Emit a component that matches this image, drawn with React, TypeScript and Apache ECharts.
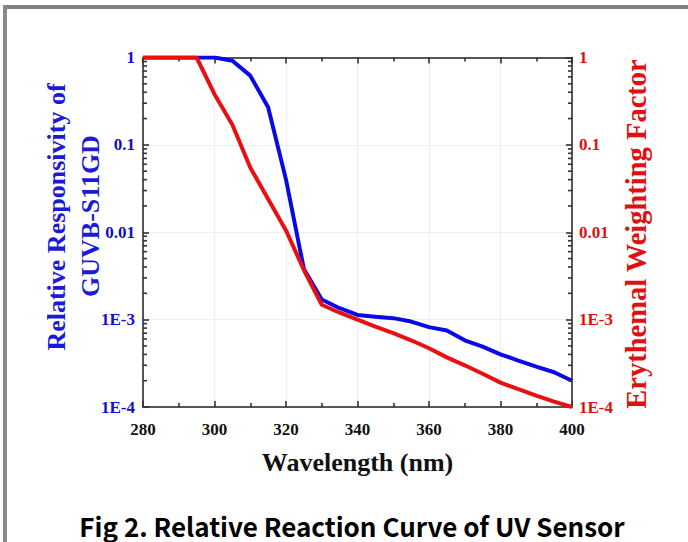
import React, { useEffect, useRef } from "react";
import * as echarts from "echarts";

const wavelengths = [280, 285, 290, 295, 300, 305, 310, 315, 320, 325, 330, 335, 340, 345, 350, 355, 360, 365, 370, 375, 380, 385, 390, 395, 400];
const responsivity = [1, 1, 1, 1, 1, 0.92, 0.62, 0.27, 0.04, 0.0038, 0.0017, 0.00135, 0.00113, 0.00108, 0.00104, 0.00095, 0.00082, 0.00075, 0.00058, 0.00049, 0.0004, 0.00034, 0.00029, 0.00025, 0.0002];
const erythemal = [1, 1, 1, 1, 0.38, 0.17, 0.055, 0.024, 0.0105, 0.0037, 0.00148, 0.0012, 0.001, 0.00083, 0.0007, 0.00058, 0.00047, 0.00037, 0.0003, 0.00024, 0.00019, 0.00016, 0.000135, 0.000115, 0.0001];
const yTickLabels: Record<string, string> = { "1": "1", "0.1": "0.1", "0.01": "0.01", "0.001": "1E-3", "0.0001": "1E-4" };
const minorMultipliers = [2, 3, 4, 5, 6, 7, 8, 9];
const decades = [0.0001, 0.001, 0.01, 0.1];
const leftTitleLines = ["Relative Responsivity of", "GUVB-S11GD"];
const rightTitle = "Erythemal Weighting Factor";
const xTitle = "Wavelength (nm)";
const figCaption = "Fig 2. Relative Reaction Curve of UV Sensor";

const fmtY = (v: number) => {
  const k = String(Number(v.toPrecision(3)));
  if (yTickLabels[k]) return yTickLabels[k];
  const e = Math.round(Math.log10(v));
  return "1E" + e;
};

export default function App() {
  const ref = useRef<HTMLDivElement>(null);
  useEffect(() => {
    if (!ref.current) return;
    const chart = echarts.init(ref.current, undefined, { renderer: "svg" });
    const minorVals: number[] = [];
    decades.forEach((d) => minorMultipliers.forEach((m) => minorVals.push(d * m)));
    const serif = "'Liberation Serif', 'Times New Roman', serif";
    const tickStyle = { color: "#333", width: 1.6 };
    const axisLine = { show: true, lineStyle: { color: "#222", width: 1.5 } };
    const axisTick = { show: true, inside: true, length: 6, lineStyle: tickStyle };
    chart.setOption({
      animation: false,
      backgroundColor: "#fff",
      grid: { left: 143, top: 57.5, right: 116, bottom: 135, containLabel: false },
      xAxis: [
        {
          type: "value",
          min: 280,
          max: 400,
          interval: 20,
          position: "bottom",
          axisLine,
          axisTick,
          minorTick: { show: true, splitNumber: 2, length: 4, lineStyle: tickStyle },
          axisLabel: { color: "#111", fontFamily: serif, fontWeight: "bold", fontSize: 17, margin: 14 },
          splitLine: { show: true, lineStyle: { color: "#eeeeee", width: 1 } },
          name: xTitle,
          nameLocation: "middle",
          nameGap: 42,
          nameTextStyle: { color: "#111", fontFamily: serif, fontWeight: "bold", fontSize: 26 },
        },
        {
          type: "value",
          min: 280,
          max: 400,
          interval: 20,
          position: "top",
          axisLine,
          axisTick,
          minorTick: { show: true, splitNumber: 2, length: 4, lineStyle: tickStyle },
          axisLabel: { show: false },
          splitLine: { show: false },
        },
      ],
      yAxis: [
        {
          type: "log",
          logBase: 10,
          min: 0.0001,
          max: 1,
          position: "left",
          axisLine,
          axisTick,
          axisLabel: { color: "#1010d0", fontFamily: serif, fontWeight: "bold", fontSize: 17, margin: 8, formatter: fmtY },
          splitLine: { show: true, lineStyle: { color: "#eeeeee", width: 1 } },
        },
        {
          type: "log",
          logBase: 10,
          min: 0.0001,
          max: 1,
          position: "right",
          axisLine,
          axisTick,
          axisLabel: { color: "#e01010", fontFamily: serif, fontWeight: "bold", fontSize: 17, margin: 7, formatter: fmtY },
          splitLine: { show: false },
        },
      ],
      graphic: [
        { type: "line", shape: { x1: 3, y1: 7, x2: 688, y2: 7 }, style: { stroke: "#808080", lineWidth: 4 } },
        { type: "line", shape: { x1: 5, y1: 5, x2: 5, y2: 542 }, style: { stroke: "#8a8a8a", lineWidth: 4 } },
        {
          type: "text",
          x: 56,
          y: 217,
          rotation: Math.PI / 2,
          style: { text: leftTitleLines[0], fill: "#1a1ad8", font: `bold 26px ${serif}`, align: "center", verticalAlign: "middle" },
        },
        {
          type: "text",
          x: 90,
          y: 216,
          rotation: Math.PI / 2,
          style: { text: leftTitleLines[1], fill: "#1a1ad8", font: `bold 26px ${serif}`, align: "center", verticalAlign: "middle" },
        },
        {
          type: "text",
          x: 636,
          y: 234,
          rotation: Math.PI / 2,
          style: { text: rightTitle, fill: "#e01010", font: `bold 28.5px ${serif}`, align: "center", verticalAlign: "middle" },
        },
        {
          type: "text",
          x: 352,
          y: 525,
          style: {
            text: figCaption,
            fill: "#000",
            font: "bold 26px 'Noto Sans CJK KR', 'Noto Sans', sans-serif",
            align: "center",
            verticalAlign: "middle",
          },
        },
      ],
      series: [
        {
          type: "custom",
          xAxisIndex: 0,
          yAxisIndex: 0,
          silent: true,
          clip: false,
          data: minorVals.map((v) => [280, v]),
          renderItem: (params: any, api: any) => {
            const v = api.value(1);
            const pl = api.coord([280, v]);
            const pr = api.coord([400, v]);
            const st = { stroke: "#333", lineWidth: 1.6 };
            return {
              type: "group",
              children: [
                { type: "line", shape: { x1: pl[0], y1: pl[1], x2: pl[0] + 4, y2: pl[1] }, style: st },
                { type: "line", shape: { x1: pr[0], y1: pr[1], x2: pr[0] - 4, y2: pr[1] }, style: st },
              ],
            };
          },
          z: 5,
        },
        {
          name: "GUVB-S11GD",
          type: "line",
          xAxisIndex: 0,
          yAxisIndex: 0,
          data: wavelengths.map((w, i) => [w, responsivity[i]]),
          showSymbol: false,
          lineStyle: { color: "#0a0ae6", width: 4 },
          z: 3,
        },
        {
          name: "Erythemal",
          type: "line",
          xAxisIndex: 0,
          yAxisIndex: 1,
          data: wavelengths.map((w, i) => [w, erythemal[i]]),
          showSymbol: false,
          lineStyle: { color: "#e81010", width: 4 },
          z: 4,
        },
      ],
    });
    return () => chart.dispose();
  }, []);
  return <div ref={ref} style={{ position: "fixed", left: 0, top: 0, width: 688, height: 542 }} />;
}
